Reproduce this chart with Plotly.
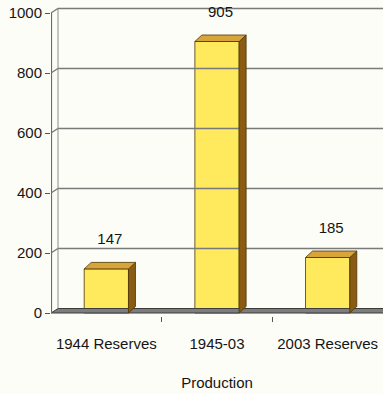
import plotly.graph_objects as go

categories = ["1944 Reserves", "1945-03<br><br>Production", "2003 Reserves"]
values = [147, 905, 185]
value_labels = ["147", "905", "185"]
y_ticks = [0, 200, 400, 600, 800, 1000]
y_ticktext = ["0", "200", "400", "600", "800", "1000"]

FONT = "Liberation Sans, Arial, sans-serif"
FRONT = "#FFE95C"
SIDE = "#8A5B12"
TOP = "#D9A53A"
EDGE = "#4a3600"

x_pos = list(range(len(values)))
xr = [-0.5, 2.5]
yr = [-10, 1020]
W, H = 383, 394
ml, mr, mt, mb = 51, 0, 7, 78
pxx = (W - ml - mr) / (xr[1] - xr[0])
pxy = (H - mt - mb) / (yr[1] - yr[0])
bw = 0.4
dxb, dyb = 7 / pxx, 6.5 / pxy     # bar depth
dxw, dyw = 7 / pxx, 4.5 / pxy     # wall depth

fig = go.Figure()

# floor
fx0, fx1 = xr[0], xr[1] + 0.1
fig.add_trace(go.Scatter(x=[fx0, fx1, fx1, fx0 + dxw, fx0], y=[0, 0, dyw, dyw, 0],
                         fill="toself", fillcolor="#7d7d7d", mode="lines",
                         line=dict(color="#3c3c3c", width=1), hoverinfo="skip", showlegend=False))

# gridlines (left wall diagonal + back wall)
for v in y_ticks[1:]:
    fig.add_trace(go.Scatter(x=[xr[0], xr[0] + dxw, fx1], y=[v, v + dyw, v + dyw],
                             mode="lines", line=dict(color="#7a7a7a", width=1.3),
                             hoverinfo="skip", showlegend=False))
# back vertical edge
fig.add_trace(go.Scatter(x=[xr[0] + dxw, xr[0] + dxw], y=[dyw, y_ticks[-1] + dyw],
                         mode="lines", line=dict(color="#8a8a8a", width=1),
                         hoverinfo="skip", showlegend=False))
# front value axis line (0..1000)
fig.add_trace(go.Scatter(x=[xr[0], xr[0]], y=[0, y_ticks[-1]],
                         mode="lines", line=dict(color="#6a6a6a", width=2.2),
                         hoverinfo="skip", showlegend=False))

# bars: front faces
fig.add_trace(go.Bar(x=x_pos, y=values, width=bw, marker=dict(color=FRONT, line=dict(color=EDGE, width=0.8)),
                     hoverinfo="skip", showlegend=False))

# side and top faces
for xi, v in zip(x_pos, values):
    xl, xrt = xi - bw / 2, xi + bw / 2
    fig.add_trace(go.Scatter(x=[xrt, xrt + dxb, xrt + dxb, xrt, xrt], y=[0, dyb, v + dyb, v, 0],
                             fill="toself", fillcolor=SIDE, mode="lines",
                             line=dict(color=EDGE, width=0.8), hoverinfo="skip", showlegend=False))
    fig.add_trace(go.Scatter(x=[xl, xrt, xrt + dxb, xl + dxb, xl], y=[v, v, v + dyb, v + dyb, v],
                             fill="toself", fillcolor=TOP, mode="lines",
                             line=dict(color=EDGE, width=0.8), hoverinfo="skip", showlegend=False))

# value labels
fig.add_trace(go.Scatter(x=[xi + dxb / 2 for xi in x_pos], y=[v + 95 for v in values],
                         mode="text", text=value_labels, textposition="middle center",
                         textfont=dict(family=FONT, size=15, color="#151515"),
                         cliponaxis=False, hoverinfo="skip", showlegend=False))

fig.update_layout(
    width=W, height=H,
    margin=dict(l=ml, r=mr, t=mt, b=mb),
    paper_bgcolor="#FDFDF7", plot_bgcolor="#FDFDF7",
    bargap=0.6,
    font=dict(family=FONT, size=15, color="#151515"),
    xaxis=dict(range=xr, tickmode="array", tickvals=x_pos, ticktext=categories,
               ticks="", showgrid=False, zeroline=False, showline=False,
               ticklabelstandoff=17, ticklabeloverflow="allow", tickfont=dict(size=15),
               minor=dict(tickmode="array", tickvals=[0.5, 1.5], ticks="outside",
                          ticklen=5, tickcolor="#555", showgrid=False)),
    yaxis=dict(range=yr, tickmode="array", tickvals=y_ticks, ticktext=y_ticktext,
               ticks="outside", ticklen=5, tickcolor="#555", showgrid=False, zeroline=False,
               showline=False, ticklabelstandoff=0,
               tickfont=dict(size=15)),
)

fig.write_html("out.html")
